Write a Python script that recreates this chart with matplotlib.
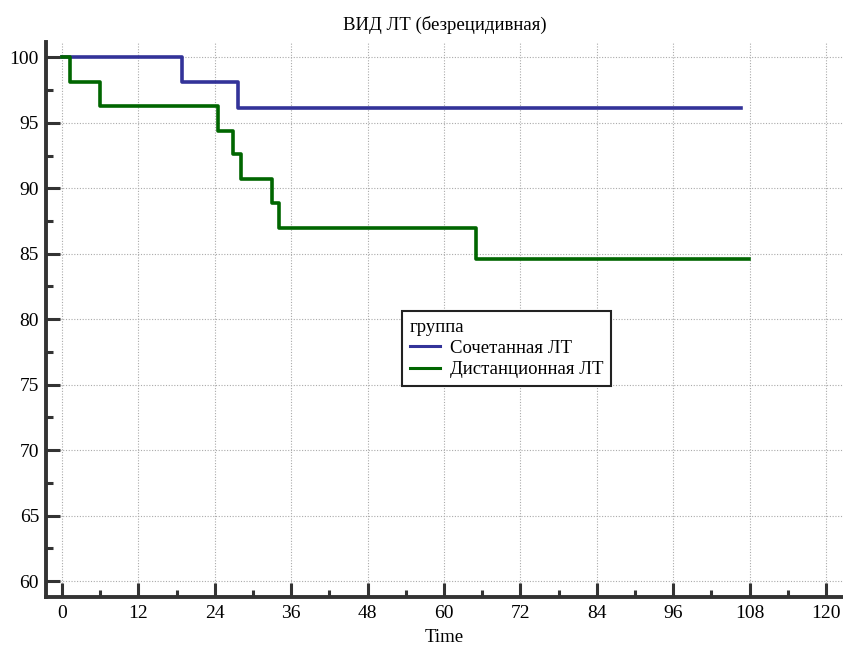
import matplotlib
matplotlib.use("Agg")
import matplotlib.pyplot as plt
from matplotlib.ticker import MultipleLocator

# Kaplan-Meier steps
t_soch = [0, 18.8, 27.7, 106.6]
s_soch = [100, 98.1, 96.1, 96.1]

t_dist = [0, 1.2, 6.0, 24.5, 26.8, 28.1, 33.0, 34.1, 65.1, 107.9]
s_dist = [100, 98.15, 96.3, 94.4, 92.6, 90.7, 88.9, 87.0, 84.6, 84.6]

labels = ["Сочетанная ЛТ", "Дистанционная ЛТ"]
colors = ["#333399", "#006600"]

plt.rcParams["font.family"] = ["Liberation Serif", "DejaVu Serif"]

fig = plt.figure(figsize=(8.43, 6.48), dpi=100)
ax = fig.add_axes([46 / 843, 1 - 597 / 648, 797 / 843, 555 / 648])

ax.step(t_soch, s_soch, where="post", color=colors[0], lw=2.6, label=labels[0], zorder=3)
ax.step(t_dist, s_dist, where="post", color=colors[1], lw=2.6, label=labels[1], zorder=3)

ax.set_xlim(-2.51, 122.66)
ax.set_ylim(58.78, 101.17)

ax.xaxis.set_major_locator(MultipleLocator(12))
ax.xaxis.set_minor_locator(MultipleLocator(6))
ax.yaxis.set_major_locator(MultipleLocator(5))
ax.yaxis.set_minor_locator(MultipleLocator(2.5))

ax.tick_params(which="both", direction="in", colors="#333333", labelcolor="black", labelsize=14)
ax.tick_params(which="major", length=10, width=2.2)
ax.tick_params(which="minor", length=5, width=2.2)
ax.tick_params(axis="x", pad=6)
ax.tick_params(axis="y", pad=5)

for side in ["top", "right"]:
    ax.spines[side].set_visible(False)
for side in ["left", "bottom"]:
    ax.spines[side].set_linewidth(2.8)
    ax.spines[side].set_color("#333333")

ax.grid(True, which="major", color="#aaaaaa", linestyle=(0, (1, 1.5)), lw=0.8)

ax.set_title("ВИД ЛТ (безрецидивная)", fontsize=13.5, pad=9)
ax.set_xlabel("Time", fontsize=13.5, labelpad=5)

leg = ax.legend(title="группа", loc="upper left", bbox_to_anchor=(0.447, 0.515),
                borderaxespad=0, fontsize=13.5, title_fontsize=13.5, fancybox=False,
                framealpha=1, edgecolor="#222222", alignment="left",
                handlelength=1.6, handletextpad=0.55, borderpad=0.4,
                labelspacing=0.22)
leg.get_frame().set_linewidth(1.5)
for line in leg.get_lines():
    line.set_linewidth(2.2)

fig.savefig("out.png", dpi=100)
